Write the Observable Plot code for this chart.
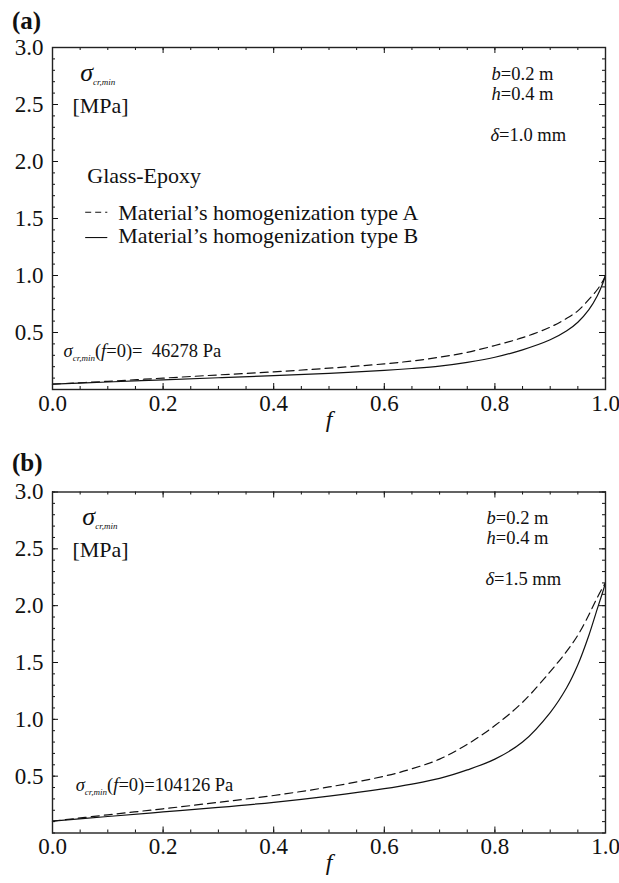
<!DOCTYPE html>
<html><head><meta charset="utf-8">
<script src="https://cdn.jsdelivr.net/npm/d3@7"></script>
<script src="https://cdn.jsdelivr.net/npm/@observablehq/plot@0.6"></script>
<style>
html,body{margin:0;padding:0;background:#fff;}
#wrap{position:relative;width:619px;height:883px;font-family:"Liberation Serif","Times New Roman",serif;color:#111;}
#wrap svg{display:block;}
#wrap svg, #wrap svg text, #wrap svg tspan{font-family:"Liberation Serif","Times New Roman",serif !important;}
.plabel{position:absolute;left:12px;font-weight:bold;font-size:25px;line-height:1;font-family:"Liberation Serif",serif;}
</style></head>
<body><div id="wrap"></div>
<script>
// ---- data ----
const fValues = [0, 0.1, 0.2, 0.3, 0.4, 0.5, 0.6, 0.65, 0.7, 0.75, 0.8, 0.85, 0.9, 0.93, 0.95, 0.97, 0.985, 0.995, 1.0];
const aTypeA = [0.047, 0.072, 0.100, 0.128, 0.155, 0.187, 0.225, 0.250, 0.283, 0.326, 0.386, 0.455, 0.547, 0.625, 0.690, 0.790, 0.875, 0.950, 1.0];
const aTypeB = [0.047, 0.066, 0.085, 0.103, 0.121, 0.142, 0.167, 0.184, 0.205, 0.238, 0.283, 0.348, 0.436, 0.515, 0.590, 0.700, 0.820, 0.930, 1.0];
const bTypeA = [0.104, 0.160, 0.213, 0.270, 0.330, 0.405, 0.500, 0.565, 0.650, 0.780, 0.945, 1.150, 1.420, 1.600, 1.740, 1.920, 2.070, 2.160, 2.2];
const bTypeB = [0.104, 0.145, 0.185, 0.225, 0.270, 0.325, 0.390, 0.430, 0.480, 0.555, 0.650, 0.800, 1.060, 1.280, 1.480, 1.740, 1.970, 2.120, 2.2];
const xMajor = [0, 0.2, 0.4, 0.6, 0.8, 1.0];
const xMinor = d3.range(0, 21).map(i => i * 0.05);
const yMajor = [0.5, 1.0, 1.5, 2.0, 2.5, 3.0];
const yMinor = d3.range(0, 31).map(i => i * 0.1);
const legendLabels = ["Material\u2019s homogenization type A", "Material\u2019s homogenization type B"];
const materialName = "Glass-Epoxy";
const panelNames = ["(a)", "(b)"];
const deltaLabels = ["*\u03b4*=1.0 mm", "*\u03b4*=1.5 mm"];
const f0Labels = ["*\u03c3*_{cr,min}(*f*=0)=\u00a0 46278 Pa", "*\u03c3*_{cr,min}(*f*=0)=104126 Pa"];
const sigmaLabel = "*\u03c3*_{cr,min}";
const unitLabel = "[MPa]";
const bLabel = "*b*=0.2 m";
const hLabel = "*h*=0.4 m";

const W = 619, ML = 52, MR = 14;
const SERIF = "Liberation Serif";

function richify(svg) {
  d3.select(svg).selectAll("text").each(function () {
    const s = this.textContent;
    if (!/[*]|_\{/.test(s)) return;
    const el = d3.select(this);
    const fs = parseFloat(el.attr("font-size")) || parseFloat(getComputedStyle(this).fontSize) || 18;
    el.text(null);
    const re = /\*([^*]+)\*|_\{([^}]+)\}|([^*_]+)/g;
    let m, shifted = 0;
    while ((m = re.exec(s))) {
      const t = el.append("tspan");
      if (m[2]) {
        const sh = Math.round(fs * 0.22);
        t.attr("font-style", "italic").attr("font-size", Math.round(fs * 0.48)).attr("dy", sh - shifted).text(m[2]);
        shifted = sh;
      } else {
        if (shifted) { t.attr("dy", -shifted); shifted = 0; }
        if (m[1]) t.attr("font-style", "italic").text(m[1]);
        else t.text(m[3]);
      }
    }
  });
}

function panel(cfg) {
  const {height, marginTop, marginBottom, typeA, typeB, delta, f0, f0pos, xs, legend} = cfg;
  const ph = height - marginTop - marginBottom, pw = W - ML - MR;
  const dataA = fValues.map((f, i) => ({f, v: typeA[i]}));
  const dataB = fValues.map((f, i) => ({f, v: typeB[i]}));
  const T = (d, o) => Plot.text(d, {fontFamily: SERIF, textAnchor: "start", ...o});
  const marks = [
    // inward ticks: bottom, top, left, right
    Plot.ruleX(xMinor, {x: d => d, insetTop: ph - 3, strokeWidth: 1}),
    Plot.ruleX(xMajor, {x: d => d, insetTop: ph - 6, strokeWidth: 1}),
    Plot.ruleX(xMinor, {x: d => d, insetBottom: ph - 3, strokeWidth: 1}),
    Plot.ruleX(xMajor, {x: d => d, insetBottom: ph - 6, strokeWidth: 1}),
    Plot.ruleY(yMinor, {y: d => d, insetRight: pw - 3, strokeWidth: 1}),
    Plot.ruleY(yMajor, {y: d => d, insetRight: pw - 6, strokeWidth: 1}),
    Plot.ruleY(yMinor, {y: d => d, insetLeft: pw - 3, strokeWidth: 1}),
    Plot.ruleY(yMajor, {y: d => d, insetLeft: pw - 6, strokeWidth: 1}),
    Plot.axisX(xMajor, {tickSize: 0, tickPadding: 5, tickFormat: d3.format(".1f"), fontSize: 23, fontFamily: SERIF, fontVariant: "normal", label: null}),
    Plot.axisY(yMajor, {tickSize: 0, tickPadding: 9, tickFormat: d3.format(".1f"), fontSize: 23, fontFamily: SERIF, fontVariant: "normal", label: null}),
    Plot.text(["f"], {frameAnchor: "bottom", dy: 37, fontStyle: "italic", fontSize: 24, fontFamily: SERIF}),
    Plot.line(dataA, {x: "f", y: "v", curve: "catmull-rom", stroke: "#111", strokeWidth: 1.2, strokeDasharray: "8,5"}),
    Plot.line(dataB, {x: "f", y: "v", curve: "catmull-rom", stroke: "#111", strokeWidth: 1.2}),
    Plot.frame({stroke: "#222", strokeWidth: 1.4}),
    T([sigmaLabel], {x: xs.sigma, y: 2.78, fontSize: 26}),
    T([unitLabel], {x: 0.036, y: 2.49, fontSize: 22}),
    T([bLabel], {x: xs.bh, y: 2.77, fontSize: 18.5}),
    T([hLabel], {x: xs.bh, y: 2.595, fontSize: 18.5}),
    T([delta], {x: xs.delta, y: 2.235, fontSize: 18.5}),
    T([f0], {x: f0pos[0], y: f0pos[1], fontSize: 18.5})
  ];
  if (legend) {
    marks.push(
      T([materialName], {x: 0.063, y: 1.875, fontSize: 22}),
      Plot.ruleY([1.555], {x1: 0.06, x2: 0.1, stroke: "#111", strokeWidth: 1.1, strokeDasharray: "6,4"}),
      Plot.ruleY([1.333], {x1: 0.06, x2: 0.1, stroke: "#111", strokeWidth: 1.1}),
      T([legendLabels[0]], {x: 0.119, y: 1.55, fontSize: 22}),
      T([legendLabels[1]], {x: 0.119, y: 1.348, fontSize: 22})
    );
  }
  const svg = Plot.plot({
    width: W, height, marginLeft: ML, marginRight: MR, marginTop, marginBottom,
    x: {domain: [0, 1]},
    y: {domain: [0, 3]},
    style: {fontFamily: SERIF, background: "white", color: "#111", overflow: "visible"},
    marks
  });
  richify(svg);
  return svg;
}

const wrap = document.getElementById("wrap");
wrap.appendChild(panel({
  height: 440, marginTop: 47, marginBottom: 51,
  typeA: aTypeA, typeB: aTypeB, delta: deltaLabels[0], f0: f0Labels[0],
  f0pos: [0.02, 0.34], xs: {sigma: 0.05, bh: 0.794, delta: 0.792}, legend: true
}));
wrap.appendChild(panel({
  height: 443, marginTop: 51.5, marginBottom: 50.5,
  typeA: bTypeA, typeB: bTypeB, delta: deltaLabels[1], f0: f0Labels[1],
  f0pos: [0.042, 0.425], xs: {sigma: 0.054, bh: 0.785, delta: 0.783}, legend: false
}));
panelNames.forEach((n, i) => {
  const d = document.createElement("div");
  d.className = "plabel";
  d.style.top = (i === 0 ? 8 : 450) + "px";
  d.textContent = n;
  wrap.appendChild(d);
});
</script>
</body></html>
